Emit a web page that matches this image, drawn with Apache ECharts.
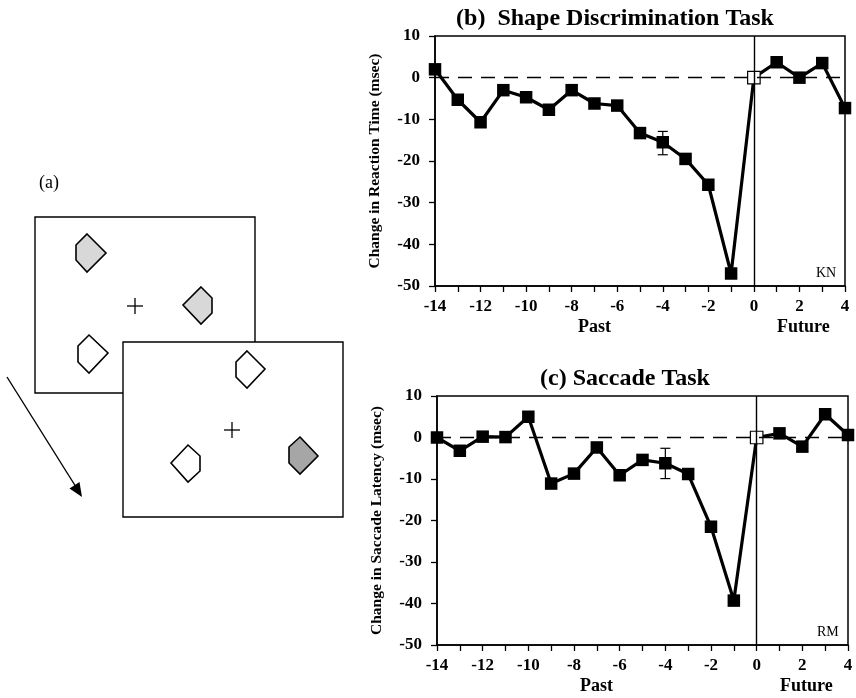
<!DOCTYPE html>
<html>
<head>
<meta charset="utf-8">
<script src="https://cdn.jsdelivr.net/npm/echarts@6/dist/echarts.min.js"></script>
<style>html,body{margin:0;padding:0;background:#fff}#c{width:856px;height:698px}</style>
</head>
<body>
<div id="c"></div>
<script>
// ---- data ----
var lags = [-14,-13,-12,-11,-10,-9,-8,-7,-6,-5,-4,-3,-2,-1,0,1,2,3,4];
var shapeRT = [2,-5.3,-10.7,-3,-4.7,-7.7,-3,-6.2,-6.7,-13.3,-15.5,-19.5,-25.7,-47,0,3.7,0,3.5,-7.3];
var saccadeLat = [0,-3.2,0.2,0.1,5,-11.1,-8.7,-2.4,-9.1,-5.4,-6.2,-8.8,-21.5,-39.3,0,1,-2.2,5.6,0.6];
var shapeErr = [[-4,-12.9,-18.5]];
var saccadeErr = [[-4,-2.6,-9.9]];
var yTicks = {min:-50, max:10, interval:10};
var xTicks = {min:-14, max:4, interval:2};

var FONT = 'Liberation Serif';

function pts(vals){
  return lags.map(function(x,i){
    var d = {value:[x, vals[i]]};
    if (x === 0) d.itemStyle = {color:'#fff', borderColor:'#000', borderWidth:1.2};
    return d;
  });
}

function errSeries(idx, data){
  return {
    type:'custom', xAxisIndex:idx, yAxisIndex:idx, z:5,
    data:data,
    renderItem:function(params, api){
      var x = api.value(0), hi = api.value(1), lo = api.value(2);
      var p1 = api.coord([x,hi]), p2 = api.coord([x,lo]);
      var w = 5;
      var st = {stroke:'#000', lineWidth:1.2};
      return {type:'group', children:[
        {type:'line', shape:{x1:p1[0],y1:p1[1],x2:p2[0],y2:p2[1]}, style:st},
        {type:'line', shape:{x1:p1[0]-w,y1:p1[1],x2:p1[0]+w,y2:p1[1]}, style:st},
        {type:'line', shape:{x1:p2[0]-w,y1:p2[1],x2:p2[0]+w,y2:p2[1]}, style:st}
      ]};
    }
  };
}

function lineSeries(idx, vals){
  return {
    type:'line', xAxisIndex:idx, yAxisIndex:idx, z:4,
    data:pts(vals),
    symbol:'rect', symbolSize:12.5,
    itemStyle:{color:'#000'},
    lineStyle:{color:'#000', width:3.2},
    silent:true,
    markLine:{
      silent:true, symbol:'none', label:{show:false},
      data:[
        {xAxis:0, lineStyle:{type:'solid', color:'#000', width:1.4}},
        {yAxis:0, lineStyle:{type:[14,9], color:'#000', width:1.3}}
      ]
    }
  };
}

function xAxis(idx){
  return {
    type:'value', gridIndex:idx, min:xTicks.min, max:xTicks.max, interval:xTicks.interval,
    axisLine:{onZero:false, lineStyle:{color:'#000', width:1.5}},
    axisTick:{inside:false, length:6, lineStyle:{color:'#000', width:1.3}},
    minorTick:{show:true, splitNumber:2, length:6, lineStyle:{color:'#000', width:1.3}},
    splitLine:{show:false},
    axisLabel:{color:'#000', fontFamily:FONT, fontWeight:'bold', fontSize:17, margin:12}
  };
}
function yAxis(idx, name){
  return {
    type:'value', gridIndex:idx, min:yTicks.min, max:yTicks.max, interval:yTicks.interval,
    name:name, nameLocation:'middle', nameGap:52, nameRotate:90,
    nameTextStyle:{color:'#000', fontFamily:FONT, fontWeight:'bold', fontSize:15.5},
    axisLine:{onZero:false, lineStyle:{color:'#000', width:1.5}},
    axisTick:{inside:false, length:6, lineStyle:{color:'#000', width:1.3}},
    splitLine:{show:false},
    axisLabel:{color:'#000', fontFamily:FONT, fontWeight:'bold', fontSize:17, margin:15}
  };
}

// panel (a) schematic
function poly(points, fill, z){
  return {type:'polygon', shape:{points:points}, style:{fill:fill, stroke:'#000', lineWidth:1.6}, z:z};
}
function cross(cx, cy, z){
  var s = 8;
  return [
    {type:'line', shape:{x1:cx-s,y1:cy,x2:cx+s,y2:cy}, style:{stroke:'#000', lineWidth:1.3}, z:z},
    {type:'line', shape:{x1:cx,y1:cy-s,x2:cx,y2:cy+s}, style:{stroke:'#000', lineWidth:1.3}, z:z}
  ];
}
var LG = '#d8d8d8', DG = '#a6a6a6';
var graphics = [
  {type:'text', left:39, top:174, style:{text:'(a)', font:'18px "Liberation Serif"', fill:'#000'}},
  {type:'rect', shape:{x:35, y:217, width:220, height:176}, style:{fill:'#fff', stroke:'#000', lineWidth:1.4}, z:9},
  poly([[87,234],[106,253],[87,272],[76,260],[76,245]], LG, 10),
  poly([[201,287],[212,298],[212,313],[201,324],[183,305]], LG, 10),
  poly([[89,335],[108,353],[89,373],[78,362],[78,346]], '#fff', 10),
  {type:'rect', shape:{x:123, y:342, width:220, height:175}, style:{fill:'#fff', stroke:'#000', lineWidth:1.4}, z:11},
  poly([[247,351],[265,369],[247,388],[236,377],[236,362]], '#fff', 12),
  poly([[188,445],[200,456],[200,471],[188,482],[171,463]], '#fff', 12),
  poly([[300,437],[318,456],[300,474],[289,463],[289,447]], DG, 12),
  {type:'line', shape:{x1:7,y1:377,x2:76,y2:487}, style:{stroke:'#000', lineWidth:1.4}, z:10},
  {type:'polygon', shape:{points:[[69.5,488.5],[79.5,482],[82,497]]}, style:{fill:'#000'}, z:10},
  // panel labels
  {type:'text', left:816, top:266, style:{text:'KN', font:'14px "Liberation Serif"', fill:'#000'}, z:20},
  {type:'text', left:817, top:625, style:{text:'RM', font:'14px "Liberation Serif"', fill:'#000'}, z:20},
  {type:'text', left:578, top:318, style:{text:'Past', font:'bold 18px "Liberation Serif"', fill:'#000'}},
  {type:'text', left:777, top:318, style:{text:'Future', font:'bold 18px "Liberation Serif"', fill:'#000'}},
  {type:'text', left:580, top:677, style:{text:'Past', font:'bold 18px "Liberation Serif"', fill:'#000'}},
  {type:'text', left:780, top:677, style:{text:'Future', font:'bold 18px "Liberation Serif"', fill:'#000'}}
].concat(cross(135,306,10), cross(232,430,12));

var chart = echarts.init(document.getElementById('c'), null, {renderer:'canvas'});
chart.setOption({
  animation:false,
  backgroundColor:'#fff',
  title:[
    {text:'{n|(b)  }{b|Shape Discrimination Task}', left:610, top:2, textAlign:'center',
     textStyle:{rich:{n:{fontFamily:FONT, fontSize:24, color:'#000'}, b:{fontFamily:FONT, fontSize:24, fontWeight:'bold', color:'#000'}}}},
    {text:'{n|(c) }{b|Saccade Task}', left:620, top:362, textAlign:'center',
     textStyle:{rich:{n:{fontFamily:FONT, fontSize:24, color:'#000'}, b:{fontFamily:FONT, fontSize:24, fontWeight:'bold', color:'#000'}}}}
  ],
  grid:[
    {left:435, top:36, width:410, height:250, show:true, borderColor:'#000', borderWidth:1.5, backgroundColor:'transparent'},
    {left:437, top:396, width:411, height:249, show:true, borderColor:'#000', borderWidth:1.5, backgroundColor:'transparent'}
  ],
  xAxis:[xAxis(0), xAxis(1)],
  yAxis:[yAxis(0,'Change in Reaction Time (msec)'), yAxis(1,'Change in Saccade Latency (msec)')],
  series:[
    lineSeries(0, shapeRT), errSeries(0, shapeErr),
    lineSeries(1, saccadeLat), errSeries(1, saccadeErr)
  ],
  graphic:graphics
});
</script>
</body>
</html>
